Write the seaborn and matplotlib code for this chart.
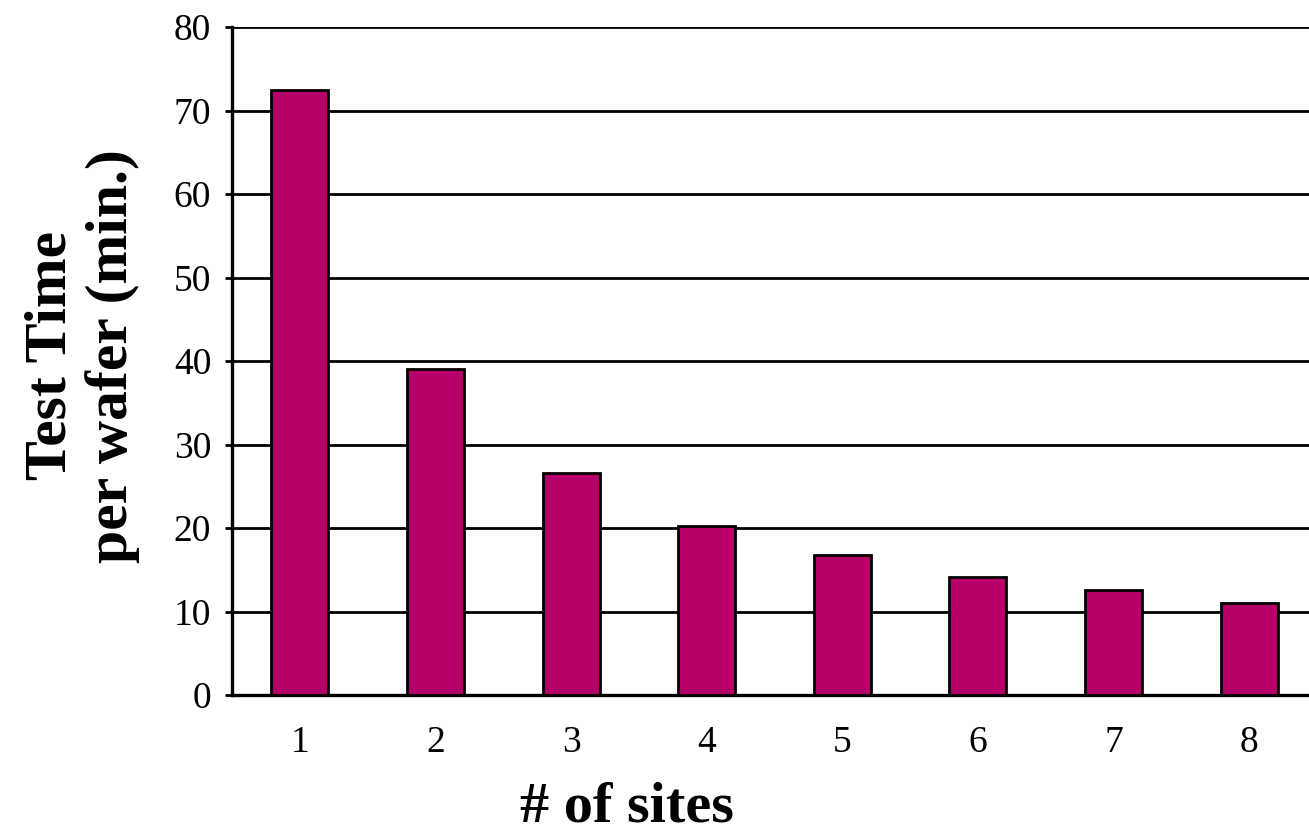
import matplotlib
matplotlib.use("Agg")
import matplotlib.pyplot as plt
import seaborn as sns
import pandas as pd

sites = ["1", "2", "3", "4", "5", "6", "7", "8"]
test_time = [72.5, 39.0, 26.6, 20.2, 16.8, 14.1, 12.6, 11.0]
y_ticks = [0, 10, 20, 30, 40, 50, 60, 70, 80]

sns.set_style("white")
plt.rcParams["font.family"] = ["Liberation Serif", "DejaVu Serif"]
plt.rcParams["text.color"] = "black"
plt.rcParams["axes.labelcolor"] = "black"
plt.rcParams["xtick.color"] = "black"
plt.rcParams["ytick.color"] = "black"

df = pd.DataFrame({"sites": sites, "time": test_time})

fig = plt.figure(figsize=(13.09, 8.34), dpi=100)
ax = fig.add_axes([232 / 1309, 1 - 695 / 834, 1085 / 1309, 668 / 834])

sns.barplot(data=df, x="sites", y="time", color="#B5006A", width=0.42,
            edgecolor="black", linewidth=2, saturation=1, ax=ax, zorder=3)

ax.set_xlim(-0.5, 7.5)
ax.set_ylim(0, 80)
ax.set_yticks(y_ticks)
ax.set_yticklabels([str(v) for v in y_ticks])
ax.yaxis.grid(True, color="black", linewidth=2)
ax.set_axisbelow(True)

# boundary ticks between categories, labels centred under each bar
ax.set_xticks([i - 0.5 for i in range(len(sites) + 1)])
ax.set_xticklabels([""] * (len(sites) + 1))
ax.set_xticks(range(len(sites)), sites, minor=True)
ax.tick_params(axis="x", which="major", direction="inout", length=18, width=2.2)
ax.tick_params(axis="x", which="minor", length=0, pad=22, labelsize=27, labelcolor="black")
ax.tick_params(axis="y", direction="out", length=5, width=2, pad=10, labelsize=27,
               left=True, labelcolor="black")

for side in ["top", "right"]:
    ax.spines[side].set_visible(False)
for side in ["left", "bottom"]:
    ax.spines[side].set_linewidth(2.4)
    ax.spines[side].set_color("black")

ax.set_xlabel("# of sites", fontsize=42, fontweight="bold", color="black")
ax.xaxis.label.set_va("baseline")
ax.xaxis.set_label_coords((627 - 232) / 1085, (695 - 822) / 668)
ax.set_ylabel("Test Time\nper wafer (min.)", fontsize=43, fontweight="bold",
              linespacing=1.15, color="black")
ax.yaxis.set_label_coords((140 - 232) / 1085, 0.508)

fig.savefig("out.png", dpi=100)
